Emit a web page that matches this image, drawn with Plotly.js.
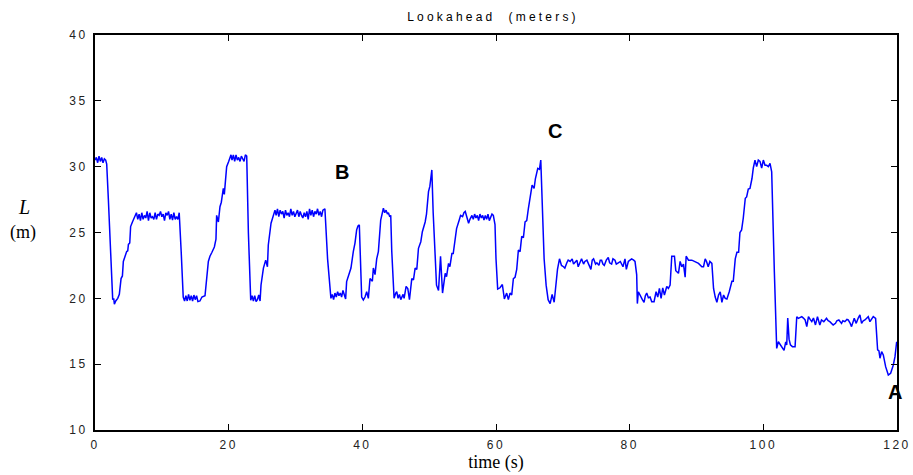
<!DOCTYPE html>
<html>
<head>
<meta charset="utf-8">
<script src="https://cdn.plot.ly/plotly-3.0.1.min.js"></script>
<style>
html,body{margin:0;padding:0;background:#fff;}
#chart{width:913px;height:475px;}
</style>
</head>
<body>
<div id="chart"></div>
<script>
// time (s)
const timeS = [
0.0,0.2,0.4,0.6,0.8,1.0,1.2,1.4,1.6,1.75,2.0,2.3,2.65,2.8,2.9,3.1,3.4,3.64,3.9,4.1,4.24,4.5,4.74,4.9,5.0,5.2,5.33,5.6,5.99,
6.2,6.4,6.6,6.8,7.0,7.2,7.4,7.6,7.8,8.0,8.2,8.4,8.6,8.8,9.0,9.2,9.4,9.6,9.8,10.0,10.2,10.4,10.6,10.8,11.0,11.2,11.4,11.6,11.8,12.0,12.2,12.4,12.6,12.9,
13.2,13.4,13.6,13.8,14.0,14.2,14.4,14.6,14.8,15.0,15.2,15.4,15.7,16.0,16.46,16.96,17.2,17.5,17.86,18.1,18.2,18.46,18.7,18.9,19.2,19.35,19.7,20.0,20.35,
20.5,20.7,20.9,21.1,21.3,21.5,21.7,21.9,22.1,22.3,22.5,22.7,22.95,23.3,23.5,23.7,23.9,24.1,24.3,24.5,24.7,24.84,25.2,25.44,25.54,25.8,25.93,26.34,26.6,26.93,
27.1,27.3,27.5,27.7,27.9,28.1,28.3,28.5,28.7,28.9,29.1,29.3,29.5,29.7,29.9,30.1,30.3,30.5,30.7,30.9,31.1,31.3,31.5,31.7,31.9,32.1,32.3,32.5,32.7,32.9,33.1,33.3,33.5,33.7,33.9,34.1,34.4,34.8,
35.3,35.5,35.7,35.9,36.1,36.3,36.5,36.7,36.9,37.1,37.3,37.5,37.65,38.0,38.3,38.65,38.9,39.15,39.35,39.55,39.9,40.15,40.4,40.65,40.9,41.15,41.5,41.65,41.9,42.15,42.4,42.75,43.15,43.35,43.55,43.75,43.9,44.1,44.25,44.4,44.75,
45.0,45.15,45.35,45.55,45.75,45.9,46.1,46.25,46.55,46.8,47.05,47.4,47.65,47.9,48.15,48.4,48.75,48.98,49.4,49.6,49.9,50.1,50.4,50.6,50.9,51.1,51.4,51.7,52.0,52.4,52.6,52.9,53.1,53.4,53.6,53.9,54.1,54.5,54.7,
55.0,55.2,55.4,55.6,55.9,56.1,56.4,56.6,56.8,57.0,57.2,57.4,57.6,57.8,58.0,58.2,58.4,58.6,58.8,59.0,59.2,59.4,59.6,59.85,60.0,60.25,60.6,60.95,61.25,61.6,61.85,62.1,62.35,62.6,62.85,63.1,63.35,63.6,63.85,64.1,64.35,64.6,64.85,
65.1,65.4,65.7,65.9,66.25,66.5,66.7,67.0,67.2,67.5,67.8,68.1,68.4,68.7,69.0,69.2,69.5,69.8,70.1,70.3,70.6,70.8,71.1,71.4,71.6,71.8,72.1,72.3,72.6,72.8,73.1,73.3,73.6,73.8,74.0,74.2,74.4,74.6,74.9,
75.1,75.4,75.6,75.8,76.0,76.2,76.5,76.8,77.0,77.3,77.5,77.8,78.0,78.3,78.6,79.0,79.3,79.5,79.8,80.05,80.3,80.6,80.8,81.05,81.15,81.3,81.65,81.9,82.15,82.35,82.55,82.8,83.05,83.3,83.65,83.95,84.2,84.45,84.7,84.95,
85.2,85.55,85.8,86.05,86.3,86.7,86.9,87.3,87.55,87.8,88.05,88.3,88.45,88.8,89.3,89.8,90.3,90.8,91.05,91.3,91.5,91.75,92.0,92.3,92.55,92.8,93.05,93.3,93.55,93.8,94.05,94.3,94.55,94.9,
95.3,95.5,95.8,96.05,96.3,96.5,96.75,97.0,97.3,97.5,97.75,98.0,98.3,98.5,98.75,99.0,99.25,99.5,99.75,100.0,100.25,100.5,100.75,101.0,101.25,101.65,102.0,102.25,102.5,102.75,103.1,103.35,103.5,103.65,103.85,104.05,104.35,104.75,
105.0,105.25,105.5,105.75,106.0,106.25,106.5,106.75,107.0,107.25,107.5,107.8,108.1,108.45,108.7,109.05,109.45,109.7,109.95,110.2,110.45,110.8,111.0,111.3,111.7,111.9,112.2,112.5,112.7,113.0,113.2,113.6,113.9,114.2,114.45,114.7,114.95,
115.2,115.45,115.7,115.95,116.2,116.45,116.8,117.1,117.3,117.45,117.7,117.95,118.3,118.5,118.7,119.05,119.45,119.7,119.95
];
// lookahead L (m)
const lookahead = [
30.5,30.7,30.3,30.8,30.4,30.7,30.3,30.6,30.5,30.2,27.5,23.5,19.9,20.0,19.55,19.8,20.0,20.3,21.5,21.7,22.8,23.2,23.55,23.6,24.1,24.2,25.45,25.8,26.2,
26.5,26.0,26.4,25.9,26.5,26.0,26.3,26.1,26.6,25.9,26.5,26.1,26.2,26.0,26.5,26.0,26.4,26.3,26.6,26.2,26.4,25.9,26.5,26.3,26.6,26.0,26.4,25.95,26.5,26.0,26.2,26.0,26.5,23.5,
20.1,19.8,20.2,19.8,20.3,19.85,20.2,19.8,20.25,19.9,20.2,19.75,19.8,20.1,20.2,22.8,23.2,23.5,23.9,24.5,26.3,25.8,26.96,27.3,28.36,27.9,30.0,30.4,30.9,
30.5,30.9,30.4,30.9,30.5,30.7,30.4,30.8,30.6,30.4,30.9,30.8,25.0,19.85,20.2,19.8,20.2,19.75,19.9,20.25,19.8,21.0,22.3,22.7,22.9,22.4,24.05,25.7,26.2,26.7,
26.3,26.8,26.2,26.7,26.4,26.6,26.1,26.7,26.3,26.5,26.2,26.8,26.3,26.6,26.2,26.5,26.7,26.2,26.6,26.3,26.1,26.5,26.2,26.6,26.0,26.8,26.3,26.7,26.2,26.6,26.4,26.8,26.3,26.6,26.2,26.7,26.8,23.0,
20.0,20.3,19.9,20.4,20.1,20.5,20.2,20.4,20.1,20.6,20.2,19.95,21.27,21.8,22.3,23.55,24.2,25.2,25.5,25.57,20.1,19.88,20.1,20.5,20.0,21.5,21.3,22.3,21.8,23.0,23.55,25.95,26.84,26.5,26.7,26.4,26.5,26.2,26.3,23.6,20.0,
20.4,20.5,20.0,20.3,19.9,20.1,20.3,20.0,20.9,20.75,19.9,21.5,21.4,22.3,22.2,23.8,24.3,25.06,25.8,26.4,28.1,28.5,29.75,26.5,23.3,21.0,20.6,23.2,20.4,21.9,21.65,22.65,22.4,23.4,23.4,24.44,25.3,25.95,26.3,
26.2,26.5,26.6,26.2,25.7,26.0,26.3,26.0,26.4,26.1,26.3,25.9,26.4,26.1,26.3,25.95,26.3,26.0,26.4,25.9,26.2,26.4,26.3,25.6,23.0,20.7,20.8,21.05,19.96,20.4,19.9,20.4,20.25,21.5,21.6,22.2,23.67,23.55,24.7,24.6,25.8,25.9,26.84,
27.6,28.6,28.35,29.1,29.87,29.8,30.5,26.5,23.0,21.0,19.9,19.6,20.3,19.7,21.3,22.2,23.0,22.5,22.4,22.3,22.7,22.9,22.8,23.0,22.6,22.7,22.9,22.4,22.8,23.0,22.6,22.8,22.9,22.7,22.5,22.2,22.9,23.0,22.6,
22.7,22.5,22.9,22.9,22.6,22.5,22.9,23.1,22.7,22.6,23.0,22.9,22.6,22.7,22.8,22.4,23.0,22.2,22.8,22.9,23.0,22.9,22.8,21.8,19.6,20.5,20.1,19.9,19.7,20.2,20.4,20.05,20.1,19.75,19.75,20.5,20.1,20.75,20.0,20.8,
20.25,20.9,20.75,21.0,23.2,23.2,22.1,21.9,22.8,22.4,22.6,21.6,23.2,22.9,22.9,22.8,22.65,22.4,22.4,23.0,22.8,22.4,22.8,22.65,20.75,20.1,19.7,20.25,20.5,19.7,20.25,20.0,19.95,20.5,
21.3,21.3,23.0,23.5,23.5,25.0,25.2,26.1,27.6,27.7,28.3,28.35,29.1,29.9,30.5,30.0,30.5,30.4,29.9,30.5,30.1,30.1,30.0,30.25,29.6,22.0,16.2,16.7,16.5,16.35,16.05,16.7,16.46,18.5,16.9,16.46,16.33,16.33,
18.6,18.48,18.55,18.61,18.5,18.36,17.85,18.61,18.4,18.23,18.5,17.98,18.61,17.98,18.36,18.23,18.48,18.3,18.23,18.1,17.98,18.1,18.3,18.36,18.1,18.3,18.23,18.4,18.36,18.1,17.85,18.48,18.1,18.5,18.74,18.1,18.3,
18.36,18.5,18.61,18.23,18.45,18.61,18.48,16.08,16.0,15.45,15.95,15.7,14.81,14.4,14.18,14.31,14.94,15.57,16.7
];
const xTicks = [0, 20, 40, 60, 80, 100, 120];
const yTicks = [10, 15, 20, 25, 30, 35, 40];
const labelText = ["A", "B", "C"];
const labelX = [119.7, 36.96, 68.8];
const labelY = [12.9, 29.6, 32.7];

const trace = {
  x: timeS, y: lookahead, type: 'scatter', mode: 'lines',
  line: {color: '#0000ff', width: 1.5}, hoverinfo: 'skip'
};

const annotations = labelText.map((t, i) => ({
  x: labelX[i], y: labelY[i], xref: 'x', yref: 'y', text: '<b>' + t + '</b>',
  showarrow: false, font: {family: 'Liberation Sans, Arial, sans-serif', size: 20, color: '#000'}
}));
annotations.push({
  xref: 'paper', yref: 'paper', x: -0.088, y: 0.565, xanchor: 'center', yanchor: 'middle',
  text: '<i>L</i>', showarrow: false,
  font: {family: 'Liberation Serif, Times New Roman, serif', size: 20, color: '#000'}
});
annotations.push({
  xref: 'paper', yref: 'paper', x: -0.09, y: 0.50, xanchor: 'center', yanchor: 'middle',
  text: '(m)', showarrow: false,
  font: {family: 'Liberation Serif, Times New Roman, serif', size: 18, color: '#000'}
});

const axisCommon = {
  showgrid: false, zeroline: false, showline: true, linecolor: '#000', linewidth: 2,
  mirror: 'ticks', ticks: 'inside', ticklen: 6, tickwidth: 1, tickcolor: '#000',
  tickfont: {family: 'Liberation Sans, Arial, sans-serif', size: 12, color: '#222'}
};

const layout = {
  width: 913, height: 475,
  margin: {l: 95, r: 16, t: 35, b: 45},
  paper_bgcolor: '#fff', plot_bgcolor: '#fff',
  showlegend: false,
  title: {text: 'Lookahead  (meters)', x: 0.54, xanchor: 'center', y: 0.965, yanchor: 'middle',
    font: {family: 'Liberation Sans, Arial, sans-serif', size: 12, color: '#000'}},
  xaxis: Object.assign({}, axisCommon, {
    range: [0, 120], tickvals: xTicks, ticktext: xTicks.map(String), ticklabelstandoff: 3,
    title: {text: 'time (s)', standoff: 2,
      font: {family: 'Liberation Serif, Times New Roman, serif', size: 18, color: '#000'}}
  }),
  yaxis: Object.assign({}, axisCommon, {
    range: [10, 40], tickvals: yTicks, ticktext: yTicks.map(String), ticklabelstandoff: 3
  }),
  annotations: annotations
};

Plotly.newPlot('chart', [trace], layout, {displayModeBar: false, staticPlot: true}).then(() => {
  document.querySelectorAll('.xtick text, .ytick text').forEach(el => { el.style.letterSpacing = '2.5px'; });
  document.querySelectorAll('.gtitle').forEach(el => { el.style.letterSpacing = '3.2px'; });
});
</script>
</body>
</html>
